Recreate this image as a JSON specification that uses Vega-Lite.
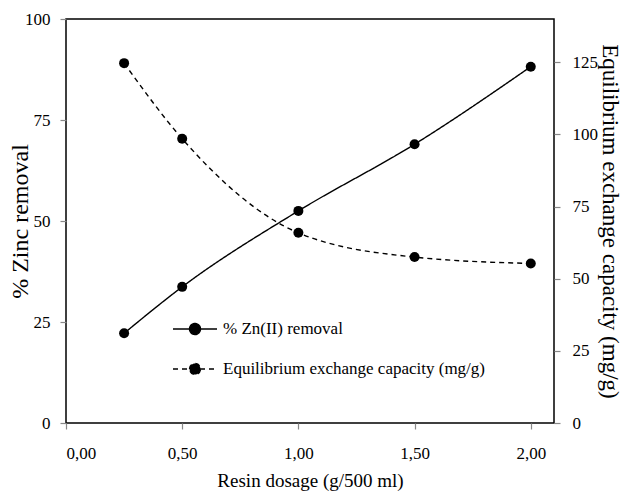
{
  "$schema": "https://vega.github.io/schema/vega-lite/v6.json",
  "width": 488,
  "height": 404,
  "autosize": {"type": "none"},
  "padding": {"left": 66, "top": 19, "right": 72, "bottom": 74},
  "config": {
    "font": "Liberation Serif",
    "locale": {"number": {"decimal": ",", "thousands": ".", "grouping": [3], "currency": ["", ""]}},
    "view": {"stroke": "#000", "strokeWidth": 1.5},
    "style": {
      "guide-label": {"font": "Liberation Serif", "fill": "#000"},
      "guide-title": {"font": "Liberation Serif", "fill": "#000", "fontWeight": "normal"}
    },
    "legend": {"labelFont": "Liberation Serif", "labelLimit": 400},
    "axis": {
      "grid": false,
      "domain": false,
      "tickColor": "#888",
      "tickSize": 6,
      "tickWidth": 1.2,
      "labelFont": "Liberation Serif",
      "labelFontSize": 17,
      "labelColor": "#000",
      "titleFont": "Liberation Serif",
      "titleFontWeight": "normal",
      "titleColor": "#000"
    }
  },
  "data": {
    "values": [
      {"dosage": 0.25, "series": "% Zn(II) removal", "value": 22.2},
      {"dosage": 0.5, "series": "% Zn(II) removal", "value": 33.7},
      {"dosage": 1.0, "series": "% Zn(II) removal", "value": 52.5},
      {"dosage": 1.5, "series": "% Zn(II) removal", "value": 69.0},
      {"dosage": 2.0, "series": "% Zn(II) removal", "value": 88.2},
      {"dosage": 0.25, "series": "Equilibrium exchange capacity (mg/g)", "value": 124.7},
      {"dosage": 0.5, "series": "Equilibrium exchange capacity (mg/g)", "value": 98.5},
      {"dosage": 1.0, "series": "Equilibrium exchange capacity (mg/g)", "value": 65.9},
      {"dosage": 1.5, "series": "Equilibrium exchange capacity (mg/g)", "value": 57.5},
      {"dosage": 2.0, "series": "Equilibrium exchange capacity (mg/g)", "value": 55.3}
    ]
  },
  "encoding": {
    "x": {
      "field": "dosage",
      "type": "quantitative",
      "scale": {"domain": [0, 2.1], "nice": false},
      "axis": {
        "values": [0, 0.5, 1, 1.5, 2],
        "format": ".2f",
        "labelPadding": 16,
        "title": "Resin dosage (g/500 ml)",
        "titleFont": "Liberation Serif",
        "titleFontSize": 19,
        "titlePadding": 10
      }
    }
  },
  "layer": [
    {
      "transform": [{"filter": "datum.series === '% Zn(II) removal'"}],
      "encoding": {
        "y": {
          "field": "value",
          "type": "quantitative",
          "scale": {"domain": [0, 100], "nice": false},
          "axis": {
            "orient": "left",
            "values": [0, 25, 50, 75, 100],
            "labelPadding": 10,
            "title": "% Zinc removal",
            "titleFont": "Liberation Serif",
            "titleFontSize": 24,
            "titlePadding": -8
          }
        }
      },
      "layer": [
        {
          "mark": {"type": "line", "interpolate": "monotone", "color": "#000", "strokeWidth": 1.4},
          "encoding": {
            "strokeDash": {
              "field": "series",
              "type": "nominal",
              "scale": {
                "domain": ["% Zn(II) removal", "Equilibrium exchange capacity (mg/g)"],
                "range": [[1, 0], [5, 4]]
              },
              "legend": {
                "title": null,
                "orient": "none",
                "legendX": 117,
                "legendY": 298,
                "padding": 0,
                "symbolType": "M-2,0H2M-0.5,0A0.5,0.5 0 1,1 0.5,0A0.5,0.5 0 1,1 -0.5,0Z",
                "symbolSize": 484,
                "symbolStrokeWidth": 1.4,
                "symbolStrokeColor": "#000",
                "symbolFillColor": "#000",
                "labelFont": "Liberation Serif",
                "labelFontSize": 17,
                "labelColor": "#000",
                "labelLimit": 400,
                "labelOffset": 16,
                "rowPadding": 19,
                "encode": {
                  "symbols": {"update": {"fill": {"value": "#000"}, "stroke": {"value": "#000"}}},
                  "labels": {"update": {"font": {"value": "Liberation Serif"}}}
                }
              }
            }
          }
        },
        {
          "mark": {"type": "point", "filled": true, "color": "#000", "opacity": 1, "size": 100}
        }
      ]
    },
    {
      "transform": [{"filter": "datum.series !== '% Zn(II) removal'"}],
      "encoding": {
        "y": {
          "field": "value",
          "type": "quantitative",
          "scale": {"domain": [0, 140], "nice": false},
          "axis": {
            "orient": "right",
            "values": [0, 25, 50, 75, 100, 125],
            "labelPadding": 12,
            "title": "Equilibrium exchange capacity (mg/g)",
            "titleFont": "Liberation Serif",
            "titleFontSize": 23,
            "titlePadding": 0
          }
        }
      },
      "layer": [
        {
          "mark": {"type": "line", "interpolate": "monotone", "color": "#000", "strokeWidth": 1.4},
          "encoding": {
            "strokeDash": {"field": "series", "type": "nominal"}
          }
        },
        {
          "mark": {"type": "point", "filled": true, "color": "#000", "opacity": 1, "size": 100}
        }
      ]
    }
  ],
  "resolve": {"scale": {"y": "independent"}}
}
